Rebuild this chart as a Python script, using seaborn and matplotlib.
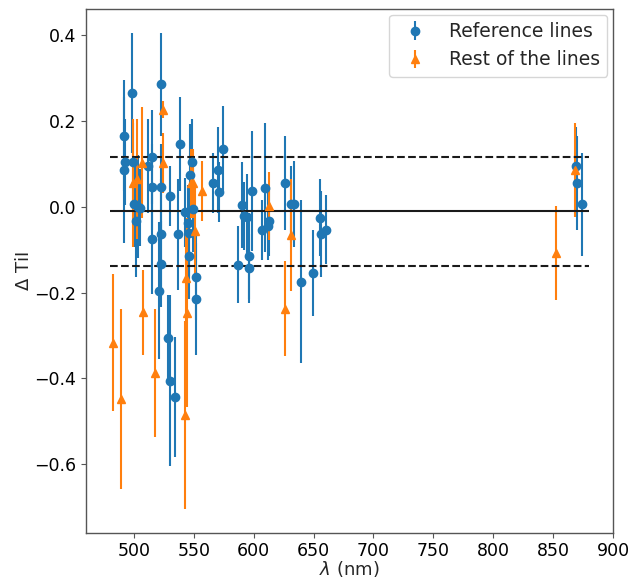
import numpy as np
import matplotlib
matplotlib.use("Agg")
import matplotlib.pyplot as plt
import seaborn as sns

# Reference lines (blue circles)
ref_wl = [491.5, 491.5, 492.6, 498.2, 499.5, 500.0, 503.7, 501.7, 505.0,
          512.0, 514.8, 514.8, 514.8, 522.4, 522.4, 522.4, 522.6, 521.2,
          528.5, 530.1, 534.1, 530.1, 538.7, 537.1, 542.7, 546.8, 548.2,
          549.6, 545.4, 546.3, 546.3, 551.9, 551.9, 566.3, 570.5, 571.3,
          574.1, 587.2, 590.0, 592.0, 594.2, 596.1, 596.1, 598.4, 606.7,
          609.5, 611.7, 613.0, 626.2, 631.2, 634.0, 639.8, 649.8, 655.6,
          656.0, 660.4, 869.2, 870.3, 874.2]
ref_dti = [0.166, 0.086, 0.105, 0.266, 0.105, 0.007, 0.000, -0.034, -0.002,
           0.095, 0.117, 0.047, -0.074, 0.286, 0.047, -0.064, -0.133, -0.195,
           -0.305, -0.405, -0.444, 0.026, 0.146, -0.064, -0.013, 0.074, 0.105,
           -0.005, -0.038, -0.061, -0.114, -0.164, -0.215, 0.055, 0.086, 0.034,
           0.136, -0.135, 0.005, -0.021, -0.024, -0.114, -0.143, 0.036, -0.053,
           0.045, -0.044, -0.034, 0.055, 0.006, 0.006, -0.174, -0.154, -0.025,
           -0.064, -0.053, 0.096, 0.055, 0.006]
ref_err = [0.13, 0.17, 0.10, 0.14, 0.09, 0.10, 0.12, 0.13, 0.09,
           0.11, 0.11, 0.10, 0.13, 0.12, 0.10, 0.13, 0.10, 0.16,
           0.10, 0.20, 0.14, 0.07, 0.11, 0.13, 0.08, 0.12, 0.10,
           0.10, 0.09, 0.10, 0.10, 0.10, 0.13, 0.07, 0.10, 0.07,
           0.10, 0.09, 0.10, 0.08, 0.10, 0.10, 0.08, 0.14, 0.07,
           0.15, 0.08, 0.08, 0.11, 0.09, 0.10, 0.19, 0.10, 0.09,
           0.10, 0.08, 0.09, 0.11, 0.12]

# Rest of the lines (orange triangles)
rest_wl = [482.3, 489.0, 499.0, 502.3, 506.5, 507.3, 517.6, 524.6, 524.6,
           543.2, 544.1, 542.7, 547.4, 549.6, 551.0, 556.6, 612.8, 626.4,
           631.0, 852.5, 868.4]
rest_dti = [-0.317, -0.447, 0.056, 0.065, 0.103, -0.246, -0.387, 0.227, 0.103,
            -0.166, -0.247, -0.485, 0.055, 0.055, -0.056, 0.036, 0.002, -0.237,
            -0.065, -0.108, 0.086]
rest_err = [0.16, 0.21, 0.15, 0.14, 0.13, 0.10, 0.15, 0.02, 0.07,
            0.10, 0.22, 0.22, 0.08, 0.08, 0.10, 0.07, 0.08, 0.11,
            0.13, 0.11, 0.11]

mean_dti = -0.01
std_dti = 0.127
line_range = [480, 880]

sns.set_theme(style="ticks")
plt.rcParams.update({"font.size": 13, "axes.labelsize": 13,
                     "xtick.labelsize": 12.5, "ytick.labelsize": 12.5,
                     "legend.fontsize": 13.5, "axes.edgecolor": "#555555",
                     "axes.linewidth": 1.0,
                     "xtick.major.size": 3.5, "ytick.major.size": 3.5,
                     "xtick.major.width": 0.8, "ytick.major.width": 0.8,
                     "xtick.major.pad": 3.0, "ytick.major.pad": 3.5,
                     "xtick.color": "#555555", "ytick.color": "#555555",
                     "xtick.labelcolor": "black", "ytick.labelcolor": "black"})
plt.rcParams['font.family'] = ['DejaVu Sans']
pal = sns.color_palette("tab10")

fig = plt.figure(figsize=(6.35, 5.79), dpi=100)
ax = fig.add_axes([0.1354, 0.0794, 0.8300, 0.9051])

ax.errorbar(ref_wl, ref_dti, yerr=ref_err, fmt='o', color=pal[0],
            label="Reference lines")
ax.errorbar(rest_wl, rest_dti, yerr=rest_err, fmt='^', color=pal[1],
            label="Rest of the lines")
ax.hlines(mean_dti, line_range[0], line_range[1], colors='k', lw=1.5)
ax.hlines([mean_dti + std_dti, mean_dti - std_dti], line_range[0], line_range[1],
          colors='k', linestyles='--', lw=1.5)

ax.set_xlabel(r"$\lambda$ (nm)", labelpad=-0.5)
ax.set_ylabel(r"$\Delta$ TiI", labelpad=1)
ax.set_xticks([500, 550, 600, 650, 700, 750, 800, 850, 900])
ax.set_yticks([0.4, 0.2, 0.0, -0.2, -0.4, -0.6])
ax.set_yticklabels(["0.4", "0.2", "0.0", "\u22120.2", "\u22120.4", "\u22120.6"])
ax.legend(loc="upper right", borderaxespad=0.3)

fig.savefig("out.png", dpi=100)
